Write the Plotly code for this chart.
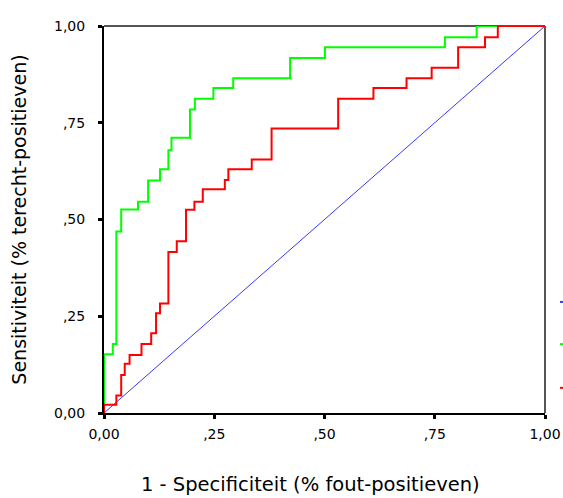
import plotly.graph_objects as go

# ROC curve corner points (horizontal-then-vertical steps)
green_fpr = [0.0, 0.0, 0.020, 0.028, 0.039, 0.077, 0.100, 0.127, 0.146, 0.153, 0.195,
             0.206, 0.248, 0.293, 0.422, 0.501, 0.773, 0.845, 1.0]
green_tpr = [0.0, 0.152, 0.178, 0.469, 0.526, 0.546, 0.601, 0.630, 0.679, 0.711, 0.784,
             0.812, 0.840, 0.865, 0.917, 0.945, 0.971, 1.0, 1.0]

red_fpr = [0.0, 0.0, 0.028, 0.039, 0.047, 0.058, 0.085, 0.107, 0.118, 0.127, 0.146,
           0.165, 0.186, 0.205, 0.224, 0.274, 0.282, 0.335, 0.380, 0.531, 0.611,
           0.686, 0.743, 0.803, 0.864, 0.893, 1.0]
red_tpr = [0.0, 0.021, 0.045, 0.098, 0.127, 0.150, 0.178, 0.206, 0.258, 0.283, 0.416,
           0.444, 0.525, 0.546, 0.578, 0.602, 0.630, 0.655, 0.735, 0.812, 0.840,
           0.865, 0.892, 0.945, 0.971, 1.0, 1.0]

ref_fpr = [0.0, 1.0]
ref_tpr = [0.0, 1.0]

tick_vals = [0, 0.25, 0.5, 0.75, 1.0]
tick_text = ["0,00", ",25", ",50", ",75", "1,00"]

x_title = "1 - Specificiteit (% fout-positieven)"
y_title = "Sensitiviteit (% terecht-positieven)"

FONT = "DejaVu Sans, Verdana, sans-serif"

fig = go.Figure()
fig.add_trace(go.Scatter(x=ref_fpr, y=ref_tpr, mode="lines",
                         line=dict(color="#3838ff", width=1), cliponaxis=False,
                         showlegend=False))
fig.add_trace(go.Scatter(x=green_fpr, y=green_tpr, mode="lines", line_shape="hv",
                         line=dict(color="#00ff00", width=2), cliponaxis=False,
                         showlegend=False))
fig.add_trace(go.Scatter(x=red_fpr, y=red_tpr, mode="lines", line_shape="hv",
                         line=dict(color="#ff0000", width=2), cliponaxis=False,
                         showlegend=False))

axis_common = dict(
    range=[0, 1], showgrid=False, zeroline=False, automargin=False,
    showline=True, linecolor="black", linewidth=2,
    ticks="outside", ticklen=4, tickwidth=3, tickcolor="black",
    tickvals=tick_vals, ticktext=tick_text,
    tickfont=dict(family=FONT, size=14, color="black"),
    fixedrange=True,
)

fig.update_xaxes(**axis_common, ticklabelstandoff=3)
fig.update_yaxes(**axis_common, ticklabelstandoff=10,
                 title=dict(text=y_title,
                            font=dict(family=FONT, size=19, color="black"),
                            standoff=22))

fig.add_annotation(text=x_title, xref="paper", yref="paper",
                   x=0.469, y=-0.1835, xanchor="center", yanchor="middle",
                   showarrow=False, font=dict(family=FONT, size=19.5, color="black"))

shapes = [
    dict(type="line", xref="paper", yref="paper", x0=0, x1=1, y0=1, y1=1,
         line=dict(color="#555555", width=2), layer="below"),
    dict(type="line", xref="paper", yref="paper", x0=1, x1=1, y0=0, y1=1,
         line=dict(color="#555555", width=2), layer="below"),
]
# clipped legend symbols at the right edge
for yy, col in [(0.287, "#3838ff"), (0.178, "#00ff00"), (0.065, "#ff0000")]:
    shapes.append(dict(type="line", xref="paper", yref="paper",
                       x0=1.034, x1=1.05, y0=yy, y1=yy,
                       line=dict(color=col, width=2)))

fig.update_layout(
    width=563, height=498,
    margin=dict(l=104, r=18, t=26, b=85),
    paper_bgcolor="white", plot_bgcolor="white",
    shapes=shapes,
    font=dict(family=FONT, color="black"),
)

fig.write_html(
    "out.html",
    config={"displayModeBar": False},
    post_script="document.body.style.margin='0';"
                "document.documentElement.style.overflow='hidden';",
)
